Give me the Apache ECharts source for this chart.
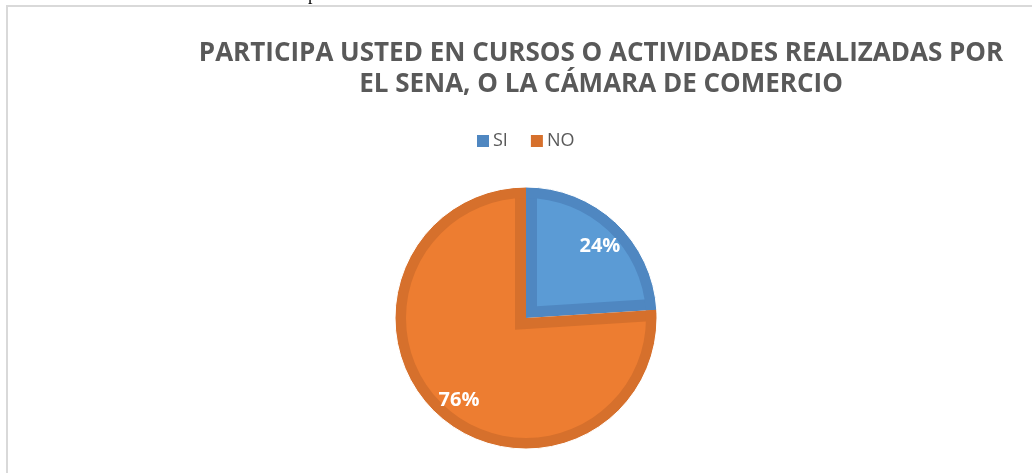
<!DOCTYPE html>
<html>
<head>
<meta charset="utf-8">
<script src="https://cdn.jsdelivr.net/npm/echarts@6/dist/echarts.min.js"></script>
<style>html,body{margin:0;padding:0;background:#fff}#c{width:1032px;height:473px}</style>
</head>
<body>
<div id="c"></div>
<script>
var titleText = 'PARTICIPA USTED EN CURSOS O ACTIVIDADES REALIZADAS POR\nEL SENA, O LA CÁMARA DE COMERCIO';
var categories = ['SI', 'NO'];
var values = [24, 76];
var fillColors = ['#5b9bd5', '#ed7d31'];
var edgeColors = ['#4f87c1', '#d6702c'];

// pie geometry (style constants)
var CX = 526, CY = 318, R = 131, BORDER = 11;

function items(colorFn) {
  return categories.map(function (c, i) {
    return { name: c, value: values[i], itemStyle: { color: colorFn(i) } };
  });
}

// Each slice is drawn inset by BORDER on all sides (Excel-style inner border):
// the inset of a wedge is the same wedge shifted along its bisector.
var total = values.reduce(function (a, b) { return a + b; }, 0);
function insetCenter(idx) {
  var before = 0;
  for (var k = 0; k < idx; k++) before += values[k];
  var span = values[idx] / total * 360;
  var mid = (90 - (before / total * 360 + span / 2)) * Math.PI / 180;
  var d = BORDER / Math.sin(span / 2 * Math.PI / 180);
  return [CX + d * Math.cos(mid), CY - d * Math.sin(mid)];
}

var frontSeries = categories.map(function (c, i) {
  return {
    type: 'pie',
    name: 'front-' + c,
    center: insetCenter(i),
    radius: [0, R + 4],
    startAngle: 90,
    clockwise: true,
    z: 2,
    silent: true,
    label: { show: false },
    labelLine: { show: false },
    data: items(function (j) { return j === i ? fillColors[j] : 'rgba(0,0,0,0)'; })
  };
});

var chart = echarts.init(document.getElementById('c'), null, { renderer: 'canvas' });
chart.setOption({
  animation: false,
  backgroundColor: '#ffffff',
  graphic: [
    { type: 'rect', shape: { x: 7, y: 6, width: 1200, height: 700 }, style: { fill: 'none', stroke: '#d9d9d9', lineWidth: 2 }, silent: true, z: -10 },
    { type: 'text', x: 308, y: -14, style: { text: 'p', font: '18px "Liberation Serif"', fill: '#000' }, silent: true }
  ],
  title: {
    text: titleText,
    left: 596,
    top: 33,
    textAlign: 'center',
    textStyle: { fontFamily: 'Open Sans', fontWeight: 'bold', fontSize: 26, lineHeight: 31, color: '#595959' }
  },
  legend: {
    data: categories.map(function (c, i) { return { name: c, itemStyle: { color: edgeColors[i] } }; }),
    left: 472,
    top: 127,
    icon: 'rect',
    itemWidth: 12,
    itemHeight: 12,
    itemGap: 23,
    textStyle: { fontFamily: 'Open Sans', fontSize: 18, color: '#595959', padding: [0, 0, 0, -1] }
  },
  series: [
    {
      type: 'pie',
      name: 'base',
      center: [CX, CY],
      radius: [0, R],
      startAngle: 90,
      clockwise: true,
      z: 1,
      silent: true,
      label: { show: false },
      labelLine: { show: false },
      data: items(function (j) { return edgeColors[j]; })
    }
  ].concat(frontSeries).concat([
    {
      type: 'pie',
      name: 'rim',
      center: [CX, CY],
      radius: [R - BORDER, R],
      startAngle: 90,
      clockwise: true,
      z: 3,
      silent: true,
      label: { show: false },
      labelLine: { show: false },
      data: items(function (j) { return edgeColors[j]; })
    },
    {
      type: 'pie',
      name: 'mask',
      center: [CX, CY],
      radius: [R, R + 30],
      startAngle: 90,
      clockwise: true,
      z: 3,
      silent: true,
      label: { show: false },
      labelLine: { show: false },
      itemStyle: { color: '#ffffff', borderWidth: 1, borderColor: '#ffffff' },
      data: items(function () { return '#ffffff'; })
    },
    {
      type: 'pie',
      name: 'labels',
      center: [CX, CY],
      radius: [82, 128],
      startAngle: 90,
      clockwise: true,
      z: 5,
      silent: true,
      label: {
        show: true,
        position: 'inside',
        formatter: '{d}%',
        color: '#ffffff',
        fontFamily: 'Open Sans',
        fontWeight: 'bold',
        fontSize: 20
      },
      labelLayout: function (p) {
        return p.dataIndex === 0 ? { dx: 0, dy: 7 } : { dx: 7, dy: 4 };
      },
      labelLine: { show: false },
      data: items(function () { return 'rgba(0,0,0,0)'; })
    }
  ])
});
</script>
</body>
</html>
